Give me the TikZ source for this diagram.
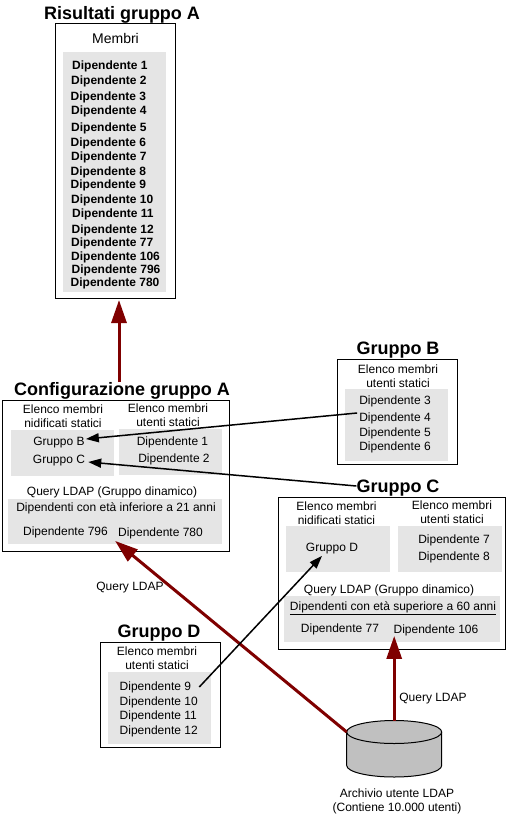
\documentclass[tikz,border=0pt]{standalone}
\usepackage{fontspec}
\setmainfont{Liberation Sans}
\usepackage{xcolor}
\usepackage{tikz}
\usetikzlibrary{calc,positioning,arrows.meta}
\definecolor{queryred}{HTML}{7F0000}
\definecolor{panelgrey}{HTML}{E5E5E5}
\definecolor{storegrey}{HTML}{C0C0C0}

\begin{document}
\begin{tikzpicture}[x=1pt,y=-1pt,%
  groupbox/.style={draw=black,line width=1pt,fill=white,inner sep=0pt,outer sep=0pt},
  panel/.style={fill=panelgrey,inner sep=0pt,outer sep=0pt},
  heading/.style={font=\fontsize{18}{20}\selectfont\bfseries,inner sep=0pt,text height=15.5pt,text depth=2.6pt},
  txt/.style={font=\fontsize{12}{14}\selectfont,inner sep=0pt,text height=11pt,text depth=2.4pt},
  member/.style={txt,font=\fontsize{12}{14}\selectfont\bfseries,anchor=west},
  twoline/.style={font=\fontsize{12}{14}\selectfont,inner sep=0pt,align=center},
  queryline/.style={draw=queryred,line width=3pt,-{Triangle[length=23pt,width=15pt]}},
  nestline/.style={draw=black,line width=1.5pt,-{Triangle[length=13pt,width=9pt]}}]
  \useasboundingbox (0,0) rectangle (507,819);

  % Risultati gruppo A
  \node (resultbox) [groupbox,minimum width=120pt,minimum height=275pt] at (115.5,160.5) {};
  \node (resultpanel) [panel,minimum width=103pt,minimum height=240pt] at (114.5,172) {};
  \node (resulttitle) [heading] at (122,13) {Risultati gruppo A};
  \node (resultmembers) [txt,font=\fontsize{14}{16}\selectfont] at (115.5,39) {Membri};
  \node (r1) [member] at (72,65) {Dipendente 1};
  \node (r2) [member] at (71,80) {Dipendente 2};
  \node (r3) [member] at (70.5,96) {Dipendente 3};
  \node (r4) [member] at (71,110) {Dipendente 4};
  \node (r5) [member] at (71,127) {Dipendente 5};
  \node (r6) [member] at (70.5,142) {Dipendente 6};
  \node (r7) [member] at (71,156) {Dipendente 7};
  \node (r8) [member] at (70.5,171) {Dipendente 8};
  \node (r9) [member] at (70.5,184) {Dipendente 9};
  \node (r10) [member] at (71,199) {Dipendente 10};
  \node (r11) [member] at (72,213) {Dipendente 11};
  \node (r12) [member] at (71.5,229) {Dipendente 12};
  \node (r77) [member] at (71,242) {Dipendente 77};
  \node (r106) [member] at (71,256) {Dipendente 106};
  \node (r796) [member] at (71.5,269) {Dipendente 796};
  \node (r780) [member] at (70.5,282) {Dipendente 780};

  % Configurazione gruppo A
  \node (configbox) [groupbox,minimum width=227pt,minimum height=150.5pt] at (116,475.75) {};
  \node (confignested) [panel,minimum width=103pt,minimum height=46pt] at (62.5,453) {};
  \node (configusers) [panel,minimum width=103pt,minimum height=46pt] at (170.5,452) {};
  \node (configquery) [panel,minimum width=214pt,minimum height=45pt] at (115,521.5) {};
  \node (configtitle) [heading] at (122,389) {Configurazione gruppo A};
  \node (confignestedlbl) [twoline] at (63,416) {Elenco membri\\nidificati statici};
  \node (configuserslbl) [twoline] at (168,415) {Elenco membri\\utenti statici};
  \node (gb) [txt] at (59,441) {Gruppo B};
  \node (gc) [txt] at (59,459) {Gruppo C};
  \node (d1) [txt] at (172.5,441) {Dipendente 1};
  \node (d2) [txt] at (174,458) {Dipendente 2};
  \node (configquerylbl) [txt] at (112,491) {Query LDAP (Gruppo dinamico)};
  \node (configrule) [txt] at (116,507) {Dipendenti con età inferiore a 21 anni};
  \node (d796) [txt] at (65.5,531) {Dipendente 796};
  \node (d780) [txt] at (160.5,532) {Dipendente 780};

  % Gruppo B
  \node (groupb) [groupbox,minimum width=120pt,minimum height=104.5pt] at (397.5,411.75) {};
  \node (groupbpanel) [panel,minimum width=103pt,minimum height=72pt] at (396.5,425) {};
  \node (groupbtitle) [heading] at (398,348) {Gruppo B};
  \node (groupblbl) [twoline] at (398,376) {Elenco membri\\utenti statici};
  \node (d3) [txt] at (395,400.5) {Dipendente 3};
  \node (d4) [txt] at (395,417.5) {Dipendente 4};
  \node (d5) [txt] at (395,432) {Dipendente 5};
  \node (d6) [txt] at (395,446) {Dipendente 6};

  % Gruppo C
  \node (groupc) [groupbox,minimum width=227pt,minimum height=152pt] at (392,573.5) {};
  \node (groupcnested) [panel,minimum width=104pt,minimum height=46pt] at (338,549) {};
  \node (groupcusers) [panel,minimum width=104pt,minimum height=46pt] at (450,549) {};
  \node (groupcquery) [panel,minimum width=216pt,minimum height=46pt] at (392,619) {};
  \node (groupctitle) [heading] at (398,486) {Gruppo C};
  \node (groupcnestedlbl) [twoline] at (336.5,513) {Elenco membri\\nidificati statici};
  \node (groupcuserslbl) [twoline] at (452,512) {Elenco membri\\utenti statici};
  \node (gd) [txt] at (332,547) {Gruppo D};
  \node (d7) [txt] at (454,539) {Dipendente 7};
  \node (d8) [txt] at (454,556) {Dipendente 8};
  \node (groupcquerylbl) [txt] at (389,589) {Query LDAP (Gruppo dinamico)};
  \node (groupcrule) [txt] at (393,606) {\underline{Dipendenti con età superiore a 60 anni}};
  \node (d77) [txt] at (340,628) {Dipendente 77};
  \node (d106) [txt] at (436,629) {Dipendente 106};

  % Gruppo D
  \node (groupd) [groupbox,minimum width=120pt,minimum height=104.5pt] at (160.5,694.75) {};
  \node (groupdpanel) [panel,minimum width=103pt,minimum height=72pt] at (159.5,708) {};
  \node (groupdtitle) [heading] at (159,631) {Gruppo D};
  \node (groupdlbl) [twoline] at (157,658) {Elenco membri\\utenti statici};
  \node (d9) [txt,anchor=west] at (119.5,686) {Dipendente 9};
  \node (d10) [txt,anchor=west] at (119.5,701) {Dipendente 10};
  \node (d11) [txt,anchor=west] at (119.5,715) {Dipendente 11};
  \node (d12) [txt,anchor=west] at (119.5,730) {Dipendente 12};

  % Archivio
  \coordinate (storeleft) at (346.7,732);
  \coordinate (storeright) at (441.7,732);
  \coordinate (storecentre) at (394.2,732);
  \coordinate (storetop) at (394.2,720.5);
  \draw[line width=1pt,fill=storegrey] (storeleft) -- (346.7,765.5)
    arc[start angle=180,end angle=360,x radius=47.5pt,y radius=11.5pt] -- (storeright);
  \draw[line width=1pt,fill=storegrey] (storecentre) ellipse[x radius=47.5pt,y radius=11.5pt];
  \node (storelbl) [twoline] at (397,801) {Archivio utente LDAP\\(Contiene 10.000 utenti)};
  \node (querya) [txt] at (130,586.5) {Query LDAP};
  \node (queryc) [txt] at (433,697) {Query LDAP};

  \coordinate (resulttip) at (119,300);
  \coordinate (configtop) at (119,382);
  \draw[queryline] (configtop) -- (resulttip);
  \draw[queryline] (storeleft) -- ([shift={(7,3)}]d796.south east);
  \draw[queryline] (storetop) -- (storetop |- d106.south);
  \draw[nestline] ([shift={(-2,-4.5)}]d4.west) -- ([shift={(1,-2)}]gb.east);
  \draw[nestline] (groupctitle.west) -- ([shift={(3,3)}]gc.east);
  \draw[nestline] ([shift={(8,1)}]d9.east) -- ([shift={(-10,2)}]gd.south);
\end{tikzpicture}
\end{document}
